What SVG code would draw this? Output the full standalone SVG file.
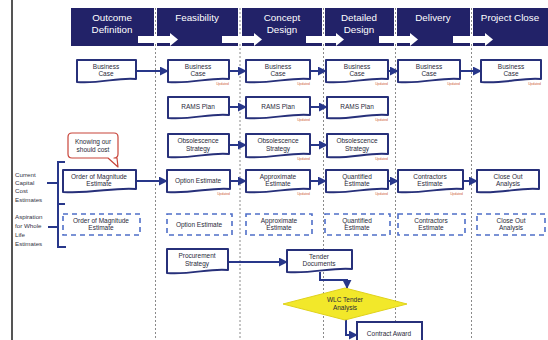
<svg xmlns="http://www.w3.org/2000/svg" width="548" height="340" viewBox="0 0 548 340">
  <style>
    .hdr { fill: #222268; }
    .hdrtxt { font-family: "Liberation Sans", Arial, sans-serif; font-size: 9.8px; fill: #ffffff; text-anchor: middle; }
    .doc { fill: #ffffff; stroke: #27307a; stroke-width: 2; stroke-linejoin: round; }
    .dash { fill: #ffffff; stroke: #4f6fc8; stroke-width: 1.6; stroke-dasharray: 5 4; }
    .lbl { font-family: "Liberation Sans", Arial, sans-serif; font-size: 6.5px; fill: #2a2a3a; text-anchor: middle; }
    .side { font-family: "Liberation Sans", Arial, sans-serif; font-size: 6.2px; fill: #333344; }
    .note { font-family: "Liberation Sans", Arial, sans-serif; font-size: 3.4px; fill: #d0603a; text-anchor: end; }
    .conn { fill: none; stroke: #28378a; stroke-width: 2; }
    .lane { stroke: #8a8a8a; stroke-width: 1; stroke-dasharray: 2 2; }
  </style>
  <defs>
    <marker id="ah" viewBox="0 0 10 10" refX="9" refY="5" markerWidth="4.5" markerHeight="4.5" orient="auto">
      <path d="M0,0 L10,5 L0,10 Z" fill="#28378a"/>
    </marker>
  </defs>

  <rect width="548" height="340" fill="#ffffff"/>
  <line x1="12" y1="0" x2="12" y2="340" stroke="#555" stroke-width="2"/>

  <!-- stage headers -->
  <g id="headers">
    <rect class="hdr" x="71" y="8" width="83" height="38"/>
    <rect class="hdr" x="157" y="8" width="81" height="38"/>
    <rect class="hdr" x="242" y="8" width="80" height="38"/>
    <rect class="hdr" x="325" y="8" width="69" height="38"/>
    <rect class="hdr" x="397" y="8" width="73" height="38"/>
    <rect class="hdr" x="473" y="8" width="75" height="38"/>
    <text class="hdrtxt" x="112" y="21">Outcome</text>
    <text class="hdrtxt" x="112" y="33">Definition</text>
    <text class="hdrtxt" x="197" y="21">Feasibility</text>
    <text class="hdrtxt" x="282" y="21">Concept</text>
    <text class="hdrtxt" x="282" y="33">Design</text>
    <text class="hdrtxt" x="359" y="21">Detailed</text>
    <text class="hdrtxt" x="359" y="33">Design</text>
    <text class="hdrtxt" x="433" y="21">Delivery</text>
    <text class="hdrtxt" x="510" y="21">Project Close</text>
  </g>

  <!-- lane separators -->
  <g id="lanes">
    <line class="lane" x1="155.5" y1="8" x2="155.5" y2="340"/>
    <line class="lane" x1="240" y1="8" x2="240" y2="340"/>
    <line class="lane" x1="323.5" y1="8" x2="323.5" y2="340"/>
    <line class="lane" x1="395.5" y1="8" x2="395.5" y2="340"/>
    <line class="lane" x1="471.5" y1="8" x2="471.5" y2="340"/>
  </g>

  <!-- white stage-transition arrows -->
  <g id="stage-arrows" fill="#ffffff">
    <path d="M138,36 H170 V33 L178,39.5 L170,46 V43 H138 Z"/>
    <path d="M222,36 H254 V33 L262,39.5 L254,46 V43 H222 Z"/>
    <path d="M306,36 H336 V33 L344,39.5 L336,46 V43 H306 Z"/>
    <path d="M379,36 H410 V33 L418,39.5 L410,46 V43 H379 Z"/>
    <path d="M453,36 H485 V33 L493,39.5 L485,46 V43 H453 Z"/>
  </g>

  <!-- connectors -->
  <g id="connectors">
    <line class="conn" x1="136" y1="71" x2="168" y2="71" marker-end="url(#ah)"/>
    <line class="conn" x1="229" y1="71" x2="246" y2="71" marker-end="url(#ah)"/>
    <line class="conn" x1="310" y1="71" x2="326" y2="71" marker-end="url(#ah)"/>
    <line class="conn" x1="388" y1="71" x2="398" y2="71" marker-end="url(#ah)"/>
    <line class="conn" x1="460" y1="71" x2="481" y2="71" marker-end="url(#ah)"/>
    <line class="conn" x1="229" y1="107" x2="246" y2="107" marker-end="url(#ah)"/>
    <line class="conn" x1="310" y1="107" x2="327" y2="107" marker-end="url(#ah)"/>
    <line class="conn" x1="229" y1="145" x2="246" y2="145" marker-end="url(#ah)"/>
    <line class="conn" x1="310" y1="145" x2="327" y2="145" marker-end="url(#ah)"/>
    <line class="conn" x1="136" y1="181" x2="167" y2="181" marker-end="url(#ah)"/>
    <line class="conn" x1="230" y1="181" x2="246" y2="181" marker-end="url(#ah)"/>
    <line class="conn" x1="310" y1="181" x2="326" y2="181" marker-end="url(#ah)"/>
    <line class="conn" x1="388" y1="181" x2="398" y2="181" marker-end="url(#ah)"/>
    <line class="conn" x1="463" y1="181" x2="477" y2="181" marker-end="url(#ah)"/>
    <line class="conn" x1="228" y1="262" x2="287" y2="262" marker-end="url(#ah)"/>
    <path class="conn" d="M320,272 V280 H347 V288" marker-end="url(#ah)"/>
    <path class="conn" d="M346,319 V335 H357" marker-end="url(#ah)"/>
    <!-- estimate braces -->
    <path class="conn" stroke-width="2.4" d="M65,162 H58 V247 H66"/>
    <path class="conn" stroke-width="2.4" d="M58,204 H65"/>
    <path class="conn" stroke-width="2.4" d="M47,183 H58"/>
    <path class="conn" stroke-width="2.4" d="M48,227 H58"/>
  </g>

  <!-- side labels -->
  <g id="side-labels">
    <text class="side" x="15" y="177">Current</text>
    <text class="side" x="15" y="185">Capital</text>
    <text class="side" x="15" y="193">Cost</text>
    <text class="side" x="15" y="202">Estimates</text>
    <text class="side" x="15" y="219">Aspiration</text>
    <text class="side" x="15" y="228">for Whole</text>
    <text class="side" x="15" y="237">Life</text>
    <text class="side" x="15" y="246">Estimates</text>
  </g>

  <!-- business case row -->
  <g id="bc1"><path class="doc" d="M77,60 H136 V79 C118,77 100,84 77,82 Z"/><text class="lbl" x="106" y="68.5">Business</text><text class="lbl" x="106" y="76">Case</text></g>
  <g id="bc2"><path class="doc" d="M168,60 H229 V79 C210,77 192,84 168,82 Z"/><text class="lbl" x="198" y="68.5">Business</text><text class="lbl" x="198" y="76">Case</text><text class="note" x="229" y="85">Updated</text></g>
  <g id="bc3"><path class="doc" d="M246,60 H310 V79 C290,77 271,84 246,82 Z"/><text class="lbl" x="278" y="68.5">Business</text><text class="lbl" x="278" y="76">Case</text><text class="note" x="310" y="85">Updated</text></g>
  <g id="bc4"><path class="doc" d="M326,60 H388 V79 C369,77 350,84 326,82 Z"/><text class="lbl" x="357" y="68.5">Business</text><text class="lbl" x="357" y="76">Case</text><text class="note" x="388" y="85">Updated</text></g>
  <g id="bc5"><path class="doc" d="M398,60 H460 V79 C441,77 422,84 398,82 Z"/><text class="lbl" x="429" y="68.5">Business</text><text class="lbl" x="429" y="76">Case</text><text class="note" x="460" y="85">Updated</text></g>
  <g id="bc6"><path class="doc" d="M481,60 H541 V79 C523,77 505,84 481,82 Z"/><text class="lbl" x="511" y="68.5">Business</text><text class="lbl" x="511" y="76">Case</text><text class="note" x="541" y="85">Updated</text></g>

  <!-- RAMS plan row -->
  <g id="rams2"><path class="doc" d="M168,97 H229 V115 C210,113 192,120 168,118 Z"/><text class="lbl" x="198" y="109">RAMS Plan</text></g>
  <g id="rams3"><path class="doc" d="M246,97 H310 V115 C290,113 271,120 246,118 Z"/><text class="lbl" x="278" y="109">RAMS Plan</text><text class="note" x="310" y="121">Updated</text></g>
  <g id="rams4"><path class="doc" d="M327,97 H388 V115 C369,113 350,120 327,118 Z"/><text class="lbl" x="357" y="109">RAMS Plan</text><text class="note" x="388" y="121">Updated</text></g>

  <!-- obsolescence row -->
  <g id="obs2"><path class="doc" d="M168,134 H229 V154 C210,152 192,159 168,157 Z"/><text class="lbl" x="198" y="143">Obsolescence</text><text class="lbl" x="198" y="151">Strategy</text></g>
  <g id="obs3"><path class="doc" d="M246,134 H310 V154 C290,152 271,159 246,157 Z"/><text class="lbl" x="278" y="143">Obsolescence</text><text class="lbl" x="278" y="151">Strategy</text><text class="note" x="310" y="160">Updated</text></g>
  <g id="obs4"><path class="doc" d="M327,134 H388 V154 C369,152 350,159 327,157 Z"/><text class="lbl" x="357" y="143">Obsolescence</text><text class="lbl" x="357" y="151">Strategy</text><text class="note" x="388" y="160">Updated</text></g>

  <!-- current cost estimate row -->
  <g id="est1"><path class="doc" d="M63,170 H136 V189 C114,187 92,194 63,192 Z"/><text class="lbl" x="99" y="178.5">Order of Magnitude</text><text class="lbl" x="99" y="186">Estimate</text></g>
  <g id="est2"><path class="doc" d="M167,170 H230 V189 C211,187 192,194 167,192 Z"/><text class="lbl" x="198" y="183">Option Estimate</text><text class="note" x="230" y="195">Updated</text></g>
  <g id="est3"><path class="doc" d="M246,170 H310 V189 C290,187 271,194 246,192 Z"/><text class="lbl" x="278" y="178.5">Approximate</text><text class="lbl" x="278" y="186">Estimate</text><text class="note" x="310" y="195">Updated</text></g>
  <g id="est4"><path class="doc" d="M326,170 H388 V189 C369,187 350,194 326,192 Z"/><text class="lbl" x="357" y="178.5">Quantified</text><text class="lbl" x="357" y="186">Estimate</text><text class="note" x="388" y="195">Updated</text></g>
  <g id="est5"><path class="doc" d="M398,170 H463 V189 C443,187 423,194 398,192 Z"/><text class="lbl" x="430" y="178.5">Contractors</text><text class="lbl" x="430" y="186">Estimate</text><text class="note" x="463" y="195">Updated</text></g>
  <g id="est6"><path class="doc" d="M477,170 H539 V189 C520,187 501,194 477,192 Z"/><text class="lbl" x="508" y="178.5">Close Out</text><text class="lbl" x="508" y="186">Analysis</text></g>

  <!-- whole life estimate row -->
  <g id="wle1"><rect class="dash" x="63" y="214" width="77" height="21"/><text class="lbl" x="101" y="222.5">Order of Magnitude</text><text class="lbl" x="101" y="230">Estimate</text></g>
  <g id="wle2"><rect class="dash" x="167" y="214" width="65" height="21"/><text class="lbl" x="199" y="226.5">Option Estimate</text></g>
  <g id="wle3"><rect class="dash" x="246" y="214" width="66" height="21"/><text class="lbl" x="279" y="222.5">Approximate</text><text class="lbl" x="279" y="230">Estimate</text></g>
  <g id="wle4"><rect class="dash" x="325" y="214" width="65" height="21"/><text class="lbl" x="357" y="222.5">Quantified</text><text class="lbl" x="357" y="230">Estimate</text></g>
  <g id="wle5"><rect class="dash" x="398" y="214" width="67" height="21"/><text class="lbl" x="431" y="222.5">Contractors</text><text class="lbl" x="431" y="230">Estimate</text></g>
  <g id="wle6"><rect class="dash" x="477" y="214" width="68" height="21"/><text class="lbl" x="511" y="222.5">Close Out</text><text class="lbl" x="511" y="230">Analysis</text></g>

  <!-- procurement path -->
  <g id="procurement"><path class="doc" d="M167,249 H228 V270 C209,268 191,275 167,273 Z"/><text class="lbl" x="197" y="258">Procurement</text><text class="lbl" x="197" y="266">Strategy</text></g>
  <g id="tender"><path class="doc" d="M287,250 H352 V269 C332,267 312,274 287,272 Z"/><text class="lbl" x="319" y="258.5">Tender</text><text class="lbl" x="319" y="266">Documents</text></g>
  <g id="wlc"><path d="M345,288 L407,304 L345,320 L283,304 Z" fill="#f2e82a" stroke="#e0d21c" stroke-width="1"/><text class="lbl" x="345" y="302">WLC Tender</text><text class="lbl" x="345" y="309.5">Analysis</text></g>
  <g id="award"><rect x="357" y="322" width="65" height="24" fill="#ffffff" stroke="#27307a" stroke-width="2"/><text class="lbl" x="389" y="335.5">Contract Award</text></g>

  <!-- callout -->
  <g id="callout">
    <path d="M72,133 H114 Q118,133 118,137 V154 Q118,158 114,158 H117 L118,167 L108,158 H72 Q68,158 68,154 V137 Q68,133 72,133 Z" fill="#ffffff" stroke="#c8453a" stroke-width="1.2" stroke-linejoin="round"/>
    <text class="lbl" x="93" y="143.5">Knowing our</text>
    <text class="lbl" x="93" y="151.5">should cost</text>
  </g>
</svg>
